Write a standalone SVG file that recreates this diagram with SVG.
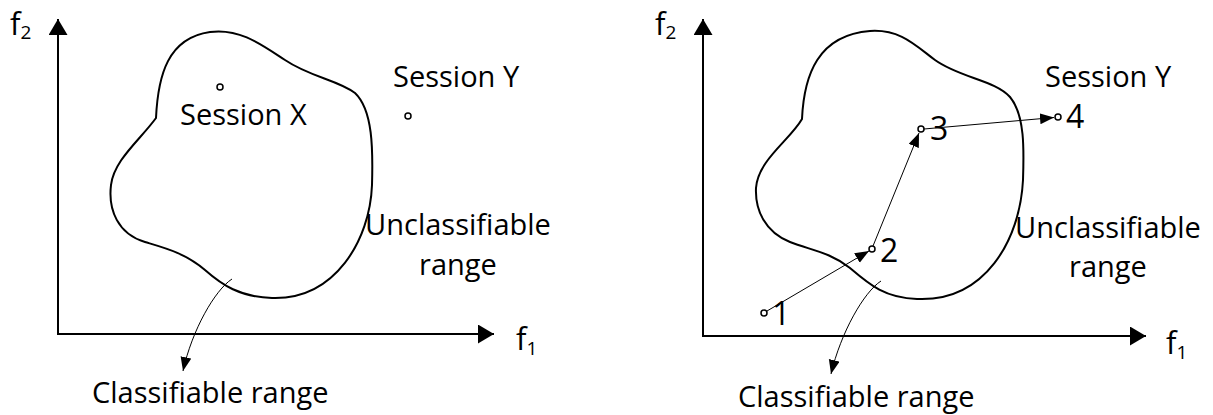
<svg xmlns="http://www.w3.org/2000/svg" width="1213" height="415" viewBox="0 0 1213 415">
<style>
.axis{stroke:#000;stroke-width:2;fill:none}
.blob{stroke:#000;stroke-width:2;fill:none}
.conn{stroke:#000;stroke-width:1;fill:none}
.dot{stroke:#000;stroke-width:1.5;fill:#fff}
text{font-family:"Open Sans","Noto Sans",sans-serif;fill:#000}
.lbl{font-size:29px}
.num{font-size:32px}
.ax{font-size:31px}
.sub{font-size:19px}
</style>
<defs>
<marker id="axhead" markerUnits="userSpaceOnUse" markerWidth="17" markerHeight="19" refX="16" refY="9.5" orient="auto">
<path d="M0,0 L16,9.5 L0,19 z" fill="#000"/>
</marker>
<marker id="head" markerUnits="userSpaceOnUse" markerWidth="15" markerHeight="12" refX="14" refY="5.5" orient="auto">
<path d="M0,0 L14,5.5 L0,11 z" fill="#000"/>
</marker>
</defs>

<!-- Left panel -->
<g id="left-axes">
<path class="axis" d="M58,334 L58,19" marker-end="url(#axhead)"/>
<path class="axis" d="M57,334 L494,334" marker-end="url(#axhead)"/>
<text class="ax" x="10" y="35">f<tspan class="sub" dy="4">2</tspan></text>
<text class="ax" x="516" y="350">f<tspan class="sub" dy="5">1</tspan></text>
</g>
<g id="left-region">
<path class="blob" d="M156,118 C158,75 168,38 210,32 C240,28 262,45 285,60 C310,77 338,80 355,93 C373,110 373,150 372,185 C370,240 335,300 272,298 C240,297 222,285 205,270 C185,253 165,248 145,242 C118,234 108,210 111,185 C114,160 140,140 156,118 Z"/>
</g>
<g id="left-session-x">
<circle class="dot" cx="220" cy="87" r="3"/>
<text class="lbl" x="180" y="125">Session X</text>
</g>
<g id="left-session-y">
<circle class="dot" cx="408" cy="116" r="3"/>
<text class="lbl" x="393" y="87">Session Y</text>
</g>
<g id="left-unclassifiable">
<text class="lbl" x="458" y="235" text-anchor="middle">Unclassifiable</text>
<text class="lbl" x="458" y="275" text-anchor="middle">range</text>
</g>
<g id="left-classifiable">
<text class="lbl" x="92" y="403">Classifiable range</text>
</g>

<!-- Right panel -->
<g id="right-axes">
<path class="axis" d="M703,336 L703,19" marker-end="url(#axhead)"/>
<path class="axis" d="M702,336 L1146,336" marker-end="url(#axhead)"/>
<text class="ax" x="655" y="35">f<tspan class="sub" dy="4">2</tspan></text>
<text class="ax" x="1166" y="354">f<tspan class="sub" dy="5">1</tspan></text>
</g>
<g id="right-region">
<path class="blob" d="M802,119 C804,75 818,35 870,31 C900,29 915,45 935,60 C960,78 995,80 1010,97 C1025,115 1024,150 1023,180 C1020,240 985,302 917,299 C885,298 870,285 850,268 C830,252 810,250 790,242 C765,232 755,210 756,188 C758,160 790,140 802,119 Z"/>
</g>
<g id="point-1">
<circle class="dot" cx="764" cy="313" r="3"/>
<text class="num" x="772" y="325">1</text>
</g>
<g id="point-2">
<circle class="dot" cx="872" cy="249" r="3"/>
<text class="num" x="880" y="262">2</text>
</g>
<g id="point-3">
<circle class="dot" cx="921" cy="129" r="3"/>
<text class="num" x="930" y="140">3</text>
</g>
<g id="point-4">
<circle class="dot" cx="1058" cy="117" r="3"/>
<text class="num" x="1066" y="128">4</text>
</g>
<g id="right-session-y">
<text class="lbl" x="1045" y="87">Session Y</text>
</g>
<g id="right-unclassifiable">
<text class="lbl" x="1108" y="238" text-anchor="middle">Unclassifiable</text>
<text class="lbl" x="1108" y="277" text-anchor="middle">range</text>
</g>
<g id="right-classifiable">
<text class="lbl" x="738" y="407">Classifiable range</text>
</g>

<g id="connectors">
<path class="conn" d="M232,279 C215,290 192,330 183,371" marker-end="url(#head)"/>
<path class="conn" d="M881,281 C864,292 841,332 831,374" marker-end="url(#head)"/>
<path class="conn" d="M767,311 L869,251" marker-end="url(#head)"/>
<path class="conn" d="M873,246 L919,133" marker-end="url(#head)"/>
<path class="conn" d="M924,129 L1054,117.5" marker-end="url(#head)"/>
</g>
</svg>
